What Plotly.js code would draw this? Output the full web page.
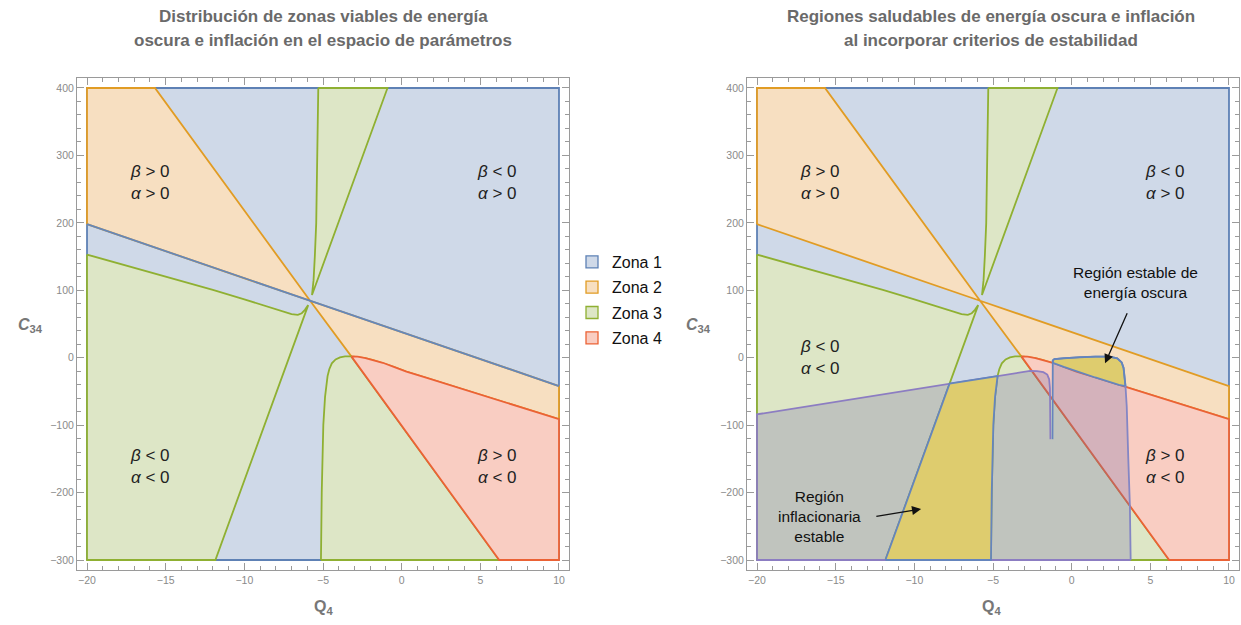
<!DOCTYPE html>
<html><head><meta charset="utf-8">
<script src="https://cdn.plot.ly/plotly-3.0.1.min.js"></script>
<style>html,body{margin:0;padding:0;background:#fff;}#chart{width:1241px;height:625px;}</style>
</head><body><div id="chart"></div>
<script>
// ---- plot window (parameter space) ----
const Q_MIN = -20, Q_MAX = 10, C_MIN = -300, C_MAX = 400;

// ---- zone boundary curves (Q4, C34) ----
const blueLineQ = [-20, -5.82, 10];
const blueLineC = [198, 84.5, -42];
const steepQ = [-15.68, -5.82, -3.2, 6.2];
const steepC = [400, 84.5, 2, -300];
const redCurveQ = [-3.2, -2.8, -2.3, -1.8, -1.2, -0.5, 0.3, 1.5, 3, 5, 7.5, 10];
const redCurveC = [2, 1.5, -0.5, -3.4, -7.5, -13.5, -20.5, -29.3, -40.2, -54.8, -72.9, -91];
const hookQ = [-20, -17, -14, -12, -10, -8.5, -7.5, -7, -6.6, -6.35, -6.15, -5.94];
const hookC = [153, 133.5, 114, 100.5, 86.5, 75.5, 67.5, 64.5, 63.5, 66, 71, 78];
const greenLineQ = [-11.84, -7.76, -5.94];
const greenLineC = [-300, -38.5, 78];
const wedgeLeftQ = [-5.30, -5.35, -5.43, -5.52, -5.60, -5.70];
const wedgeLeftC = [400, 300, 200, 150, 115, 93];
const wedgeRightQ = [-5.70, -0.90];
const wedgeRightC = [93, 400];
const midCurveQ = [-5.13, -5.08, -4.98, -4.87, -4.71, -4.6, -4.44, -4.2, -3.92, -3.6, -3.2];
const midCurveC = [-300, -200, -100, -58, -27.3, -17, -8.3, -2.5, 0.5, 2, 2];

// ---- stability boundaries (right panel) ----
const inflTopQ = [-20, -7.76, -4.71, -2.64, -2.2, -1.8, -1.55, -1.43, -1.38, -1.35];
const inflTopC = [-84, -38.5, -27.3, -19.5, -19.8, -21.5, -25, -32, -45, -121];
const deTopQ = [-1.22, -1.2, -1.1, -0.5, 0.5, 1.5, 2.4, 2.9, 3.18, 3.3, 3.42];
const deTopC = [-121, -4, -2, -0.5, 1, 1.7, 1.5, -1, -7, -15, -42];
const deSideQ = [3.42, 3.5, 3.6, 3.7, 3.75];
const deSideC = [-42, -72, -150, -220, -300];

// ---- labels ----
const zoneNames = ['Zona 1', 'Zona 2', 'Zona 3', 'Zona 4'];
const zoneFill = ['#CFD9E8', '#F7DFC1', '#DDE6C6', '#F9CDC2'];
const zoneLine = ['#5E81B5', '#E19C24', '#8FB032', '#EB6235'];
const signLabels = ['<i>β</i> &gt; 0<br><i>α</i> &gt; 0', '<i>β</i> &lt; 0<br><i>α</i> &gt; 0',
                    '<i>β</i> &lt; 0<br><i>α</i> &lt; 0', '<i>β</i> &gt; 0<br><i>α</i> &lt; 0'];
const titleLeft = ['Distribución de zonas viables de energía', 'oscura e inflación en el espacio de parámetros'];
const titleRight = ['Regiones saludables de energía oscura e inflación', 'al incorporar criterios de estabilidad'];
const xTitle = '<b>Q<sub>4</sub></b>';
const yTitle = '<b><i>C</i><sub>34</sub></b>';
const noteDE = 'Región estable de<br>energía oscura';
const noteInf = 'Región<br>inflacionaria<br>estable';

// ---- helpers ----
const LW = 1.8;
const P = (q, c) => q.map((v, i) => [v, c[i]]);
const rev = a => a.slice().reverse();
function poly(points, fill, line, xa, ya, w) {
  const pts = points.concat([points[0]]);
  return {type: 'scatter', mode: 'lines', x: pts.map(p => p[0]), y: pts.map(p => p[1]),
    xaxis: xa, yaxis: ya, fill: 'toself', fillcolor: fill,
    line: {color: line, width: w === undefined ? LW : w}, hoverinfo: 'skip', showlegend: false};
}
function path(points, color, xa, ya, w) {
  return {type: 'scatter', mode: 'lines', x: points.map(p => p[0]), y: points.map(p => p[1]),
    xaxis: xa, yaxis: ya, line: {color: color, width: w || LW}, hoverinfo: 'skip', showlegend: false};
}

const blue = P(blueLineQ, blueLineC), steep = P(steepQ, steepC), red = P(redCurveQ, redCurveC);
const hook = P(hookQ, hookC), gLine = P(greenLineQ, greenLineC);
const wL = P(wedgeLeftQ, wedgeLeftC), wR = P(wedgeRightQ, wedgeRightC), mid = P(midCurveQ, midCurveC);
const inflTop = P(inflTopQ, inflTopC), deTop = P(deTopQ, deTopC), deSide = P(deSideQ, deSideC);

function zones(xa, ya) {
  const t = [];
  t.push(poly([[Q_MIN, C_MIN], [Q_MAX, C_MIN], [Q_MAX, C_MAX], [Q_MIN, C_MAX]], zoneFill[0], zoneLine[0], xa, ya));
  t.push(poly([blue[0], [Q_MIN, C_MAX], steep[0], steep[1]], zoneFill[1], zoneLine[1], xa, ya));
  t.push(poly([steep[1], blue[2], red[red.length - 1]].concat(rev(red)), zoneFill[1], zoneLine[1], xa, ya));
  t.push(poly(hook.concat(rev(gLine), [[Q_MIN, C_MIN]]), zoneFill[2], zoneLine[2], xa, ya));
  t.push(poly(wL.concat(wR.slice(1)), zoneFill[2], zoneLine[2], xa, ya));
  t.push(poly(mid.concat([steep[3]]), zoneFill[2], zoneLine[2], xa, ya));
  t.push(poly(red.concat([[Q_MAX, C_MIN], steep[3]]), zoneFill[3], zoneLine[3], xa, ya));
  return t;
}

let traces = [];
// left panel
traces = traces.concat(zones('x', 'y'));
traces.push(path(blue, '#6587BA', 'x', 'y'));
// right panel
traces = traces.concat(zones('x2', 'y2'));
const sI = [[Q_MIN, C_MIN]].concat(inflTop, deTop, deSide.slice(1));
traces.push(poly(sI, 'rgba(118,108,170,0.28)', 'rgba(0,0,0,0)', 'x2', 'y2', 0));
traces.push(path([deSide[deSide.length - 1], [Q_MIN, C_MIN]].concat(inflTop), '#8C7DC2', 'x2', 'y2'));
const y1 = [gLine[0], gLine[1], inflTop[1], inflTop[2]].concat(rev(mid.slice(0, 5)));
traces.push(poly(y1, '#DECC6E', '#6585BD', 'x2', 'y2'));
const redPart = red.filter(p => p[0] >= deTop[1][0] && p[0] <= deTop[deTop.length - 1][0]);
const y2 = deTop.slice(1).concat(rev(redPart));
traces.push(poly(y2, '#DECC6E', '#6585BD', 'x2', 'y2'));
traces.push(path(deTop, '#6585BD', 'x2', 'y2'));
traces.push(path(deSide, '#8486C4', 'x2', 'y2'));

// legend entries
zoneNames.forEach((n, i) => traces.push({type: 'scatter', mode: 'markers', x: [null], y: [null], xaxis: 'x', yaxis: 'y',
  name: n, legendgroup: 'g' + i, showlegend: true,
  marker: {symbol: 'square', size: 12, color: zoneFill[i], line: {color: zoneLine[i], width: 1.3}}}));

// ---- layout ----
const L = 77, T = 78, W = 1162, H = 492;
const px = p => (p - L) / W, py = p => 1 - (p - T) / H;
const frameCol = '#9A9A9A';
function xax(dom, anchor) {
  return {domain: dom, anchor: anchor, range: [-20.636, 10.636], tickmode: 'linear', tick0: 0, dtick: 5,
    ticks: 'inside', ticklen: 7, tickwidth: 1, tickcolor: frameCol, showline: true, linecolor: frameCol, linewidth: 1,
    mirror: 'allticks', showgrid: false, zeroline: false,
    minor: {dtick: 1, tick0: 0, ticks: 'inside', ticklen: 4, tickcolor: frameCol, showgrid: false},
    tickfont: {family: 'Liberation Sans, Arial', size: 10.5, color: '#8A8A8A'}};
}
function yax(anchor) {
  return {domain: [0, 1], anchor: anchor, range: [-314.8, 414.8], tickmode: 'linear', tick0: 0, dtick: 100,
    ticks: 'inside', ticklen: 7, tickwidth: 1, tickcolor: frameCol, showline: true, linecolor: frameCol, linewidth: 1,
    mirror: 'allticks', showgrid: false, zeroline: false,
    minor: {dtick: 20, tick0: 0, ticks: 'inside', ticklen: 4, tickcolor: frameCol, showgrid: false},
    tickfont: {family: 'Liberation Sans, Arial', size: 10.5, color: '#8A8A8A'}};
}

const ann = [];
const titleFont = {family: 'Liberation Sans, Arial', size: 17, color: '#6A6A6A'};
[[titleLeft, 323], [titleRight, 991]].forEach(([lines, cx]) => {
  lines.forEach((s, i) => ann.push({xref: 'paper', yref: 'paper', x: px(cx), y: py(i ? 40 : 17), text: '<b>' + s + '</b>',
    showarrow: false, xanchor: 'center', yanchor: 'middle', font: titleFont}));
});
const axFont = {family: 'Liberation Sans, Arial', size: 16, color: '#777777'};
[[323, 30], [991, 698]].forEach(([cx, ly]) => {
  ann.push({xref: 'paper', yref: 'paper', x: px(cx), y: py(607), text: xTitle, showarrow: false, xanchor: 'center', yanchor: 'middle', font: axFont});
  ann.push({xref: 'paper', yref: 'paper', x: px(ly), y: py(325), text: yTitle, showarrow: false, xanchor: 'center', yanchor: 'middle', font: axFont});
});
const signFont = {family: 'Liberation Sans, Arial', size: 17, color: '#222'};
[[-16.0, 260], [6.07, 260], [-16.0, -162], [6.07, -162]].forEach(([q, c], i) =>
  ann.push({xref: 'x', yref: 'y', x: q, y: c, text: signLabels[i], showarrow: false, font: signFont}));
[[-16.0, 260], [5.94, 260], [-16.0, 0.3], [5.94, -162]].forEach(([q, c], i) =>
  ann.push({xref: 'x2', yref: 'y2', x: q, y: c, text: signLabels[i], showarrow: false, font: signFont}));
const noteFont = {family: 'Liberation Sans, Arial', size: 15.5, color: '#111'};
ann.push({xref: 'x2', yref: 'y2', x: 4.03, y: 112, text: noteDE, showarrow: false, font: noteFont});
ann.push({xref: 'x2', yref: 'y2', x: -16.0, y: -235.7, text: noteInf, showarrow: false, font: noteFont});
ann.push({xref: 'x2', yref: 'y2', x: 2.12, y: -8.3, axref: 'x2', ayref: 'y2', ax: 3.57, ay: 68, text: '',
  showarrow: true, arrowhead: 2, arrowsize: 1.4, arrowwidth: 1.3, arrowcolor: '#111'});
ann.push({xref: 'x2', yref: 'y2', x: -9.57, y: -224.3, axref: 'x2', ayref: 'y2', ax: -12.51, ay: -235.5, text: '',
  showarrow: true, arrowhead: 2, arrowsize: 1.4, arrowwidth: 1.3, arrowcolor: '#111'});

const layout = {
  width: 1241, height: 625, margin: {l: L, r: 1241 - L - W, t: T, b: 625 - T - H},
  paper_bgcolor: '#fff', plot_bgcolor: '#fff', hovermode: false,
  xaxis: xax([0, 492 / W], 'y'), yaxis: yax('x'),
  xaxis2: xax([670 / W, 1], 'y2'), yaxis2: yax('x2'),
  showlegend: true,
  legend: {x: px(572), y: py(245), xanchor: 'left', yanchor: 'top', bgcolor: 'rgba(0,0,0,0)',
    font: {family: 'Liberation Sans, Arial', size: 16, color: '#111'}, itemwidth: 30, tracegroupgap: 1.5},
  annotations: ann
};
Plotly.newPlot('chart', traces, layout, {staticPlot: true, displayModeBar: false});
</script></body></html>
